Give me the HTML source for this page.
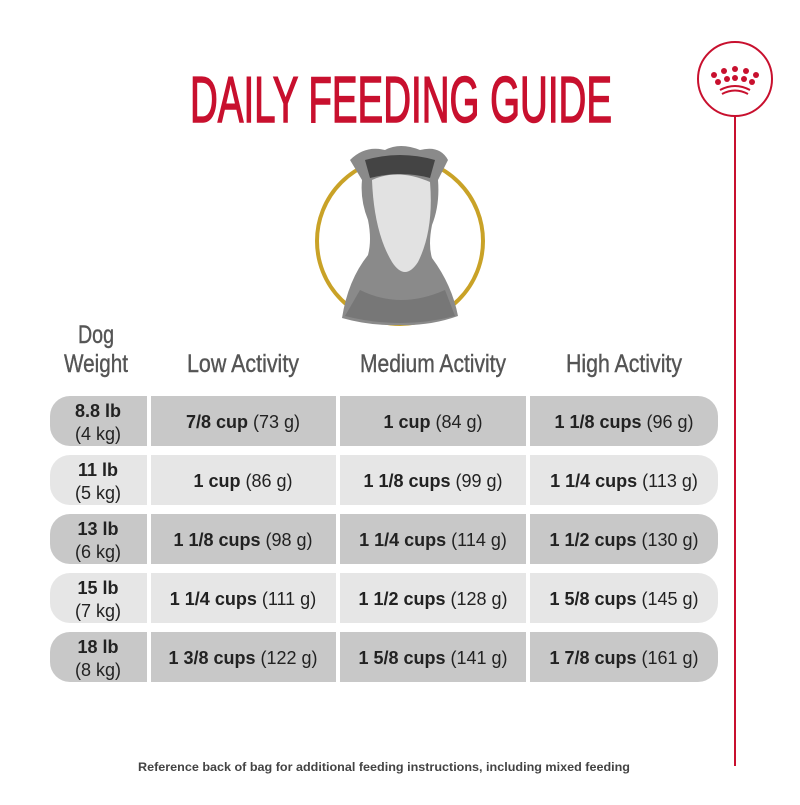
<!DOCTYPE html>
<html><head><style>html,body{margin:0;padding:0;background:#fff}</style></head>
<body>
<svg width="800" height="800" viewBox="0 0 800 800" xmlns="http://www.w3.org/2000/svg" font-family="Liberation Sans, sans-serif">
<text x="190" y="122" font-size="65" fill="#c8102e" stroke="#c8102e" stroke-width="1.5" textLength="422" lengthAdjust="spacingAndGlyphs">DAILY FEEDING GUIDE</text>
<!-- logo -->
<circle cx="735" cy="79" r="37" fill="#fff" stroke="#c8102e" stroke-width="2"/>
<line x1="735" y1="116" x2="735" y2="766" stroke="#c8102e" stroke-width="2"/>
<g fill="#c8102e">
<circle cx="714" cy="75" r="3"/><circle cx="724" cy="71" r="3"/><circle cx="735" cy="69" r="3"/><circle cx="746" cy="71" r="3"/><circle cx="756" cy="75" r="3"/>
<circle cx="718" cy="82" r="3"/><circle cx="727" cy="79" r="3"/><circle cx="735" cy="78" r="3"/><circle cx="744" cy="79" r="3"/><circle cx="752" cy="82" r="3"/>
</g>
<path d="M720 90 Q735 82 750 90" stroke="#c8102e" stroke-width="2" fill="none"/>
<path d="M722 94 Q735 87 748 94" stroke="#c8102e" stroke-width="2" fill="none"/>
<!-- dog -->
<circle cx="400" cy="241" r="83" fill="#fff" stroke="#c9a227" stroke-width="4"/>
<path d="M342 318 Q348 280 368 255 Q372 240 368 220 Q360 200 362 180 L350 160 Q365 145 385 150 Q400 142 420 150 Q440 145 448 160 L438 180 Q440 205 432 225 Q428 245 432 258 Q452 285 458 316 Q430 326 400 325 Q370 326 342 318Z" fill="#8a8a8a"/>
<path d="M372 180 Q398 168 430 182 Q434 230 418 262 Q405 282 392 262 Q374 232 372 180Z" fill="#e2e2e2"/>
<path d="M360 290 Q400 310 445 290 L455 316 Q400 330 345 316Z" fill="#777"/>
<path d="M365 160 Q400 150 435 160 L430 178 Q400 170 370 178Z" fill="#444"/>
<!-- headers -->
<g fill="#555" font-size="25" text-anchor="middle" stroke="#555" stroke-width="0.4">
<text x="96" y="343" textLength="36" lengthAdjust="spacingAndGlyphs">Dog</text>
<text x="96" y="372" textLength="64" lengthAdjust="spacingAndGlyphs">Weight</text>
<text x="243" y="372" textLength="112" lengthAdjust="spacingAndGlyphs">Low Activity</text>
<text x="433" y="372" textLength="146" lengthAdjust="spacingAndGlyphs">Medium Activity</text>
<text x="624" y="372" textLength="116" lengthAdjust="spacingAndGlyphs">High Activity</text>
</g>
<!-- rows -->
<g>
<path d="M70 396 H147 V446 H70 A20 20 0 0 1 50 426 V416 A20 20 0 0 1 70 396Z" fill="#c8c8c8"/>
<rect x="151" y="396" width="185" height="50" fill="#c8c8c8"/><rect x="340" y="396" width="186" height="50" fill="#c8c8c8"/>
<path d="M530 396 H698 A20 20 0 0 1 718 416 V426 A20 20 0 0 1 698 446 H530Z" fill="#c8c8c8"/>
<path d="M70 455 H147 V505 H70 A20 20 0 0 1 50 485 V475 A20 20 0 0 1 70 455Z" fill="#e6e6e6"/>
<rect x="151" y="455" width="185" height="50" fill="#e6e6e6"/><rect x="340" y="455" width="186" height="50" fill="#e6e6e6"/>
<path d="M530 455 H698 A20 20 0 0 1 718 475 V485 A20 20 0 0 1 698 505 H530Z" fill="#e6e6e6"/>
<path d="M70 514 H147 V564 H70 A20 20 0 0 1 50 544 V534 A20 20 0 0 1 70 514Z" fill="#c8c8c8"/>
<rect x="151" y="514" width="185" height="50" fill="#c8c8c8"/><rect x="340" y="514" width="186" height="50" fill="#c8c8c8"/>
<path d="M530 514 H698 A20 20 0 0 1 718 534 V544 A20 20 0 0 1 698 564 H530Z" fill="#c8c8c8"/>
<path d="M70 573 H147 V623 H70 A20 20 0 0 1 50 603 V593 A20 20 0 0 1 70 573Z" fill="#e6e6e6"/>
<rect x="151" y="573" width="185" height="50" fill="#e6e6e6"/><rect x="340" y="573" width="186" height="50" fill="#e6e6e6"/>
<path d="M530 573 H698 A20 20 0 0 1 718 593 V603 A20 20 0 0 1 698 623 H530Z" fill="#e6e6e6"/>
<path d="M70 632 H147 V682 H70 A20 20 0 0 1 50 662 V652 A20 20 0 0 1 70 632Z" fill="#c8c8c8"/>
<rect x="151" y="632" width="185" height="50" fill="#c8c8c8"/><rect x="340" y="632" width="186" height="50" fill="#c8c8c8"/>
<path d="M530 632 H698 A20 20 0 0 1 718 652 V662 A20 20 0 0 1 698 682 H530Z" fill="#c8c8c8"/>
</g>
<g fill="#222" font-size="18" text-anchor="middle">
<text x="98" y="417" font-weight="bold">8.8 lb</text><text x="98" y="440">(4 kg)</text>
<text x="98" y="476" font-weight="bold">11 lb</text><text x="98" y="499">(5 kg)</text>
<text x="98" y="535" font-weight="bold">13 lb</text><text x="98" y="558">(6 kg)</text>
<text x="98" y="594" font-weight="bold">15 lb</text><text x="98" y="617">(7 kg)</text>
<text x="98" y="653" font-weight="bold">18 lb</text><text x="98" y="676">(8 kg)</text>
<text x="243" y="428"><tspan font-weight="bold">7/8 cup</tspan> (73 g)</text>
<text x="433" y="428"><tspan font-weight="bold">1 cup</tspan> (84 g)</text>
<text x="624" y="428"><tspan font-weight="bold">1 1/8 cups</tspan> (96 g)</text>
<text x="243" y="487"><tspan font-weight="bold">1 cup</tspan> (86 g)</text>
<text x="433" y="487"><tspan font-weight="bold">1 1/8 cups</tspan> (99 g)</text>
<text x="624" y="487"><tspan font-weight="bold">1 1/4 cups</tspan> (113 g)</text>
<text x="243" y="546"><tspan font-weight="bold">1 1/8 cups</tspan> (98 g)</text>
<text x="433" y="546"><tspan font-weight="bold">1 1/4 cups</tspan> (114 g)</text>
<text x="624" y="546"><tspan font-weight="bold">1 1/2 cups</tspan> (130 g)</text>
<text x="243" y="605"><tspan font-weight="bold">1 1/4 cups</tspan> (111 g)</text>
<text x="433" y="605"><tspan font-weight="bold">1 1/2 cups</tspan> (128 g)</text>
<text x="624" y="605"><tspan font-weight="bold">1 5/8 cups</tspan> (145 g)</text>
<text x="243" y="664"><tspan font-weight="bold">1 3/8 cups</tspan> (122 g)</text>
<text x="433" y="664"><tspan font-weight="bold">1 5/8 cups</tspan> (141 g)</text>
<text x="624" y="664"><tspan font-weight="bold">1 7/8 cups</tspan> (161 g)</text>
</g>
<text x="384" y="771" font-size="11.5" font-weight="bold" fill="#444" text-anchor="middle" textLength="492" lengthAdjust="spacingAndGlyphs">Reference back of bag for additional feeding instructions, including mixed feeding</text>
</svg>
</body></html>
